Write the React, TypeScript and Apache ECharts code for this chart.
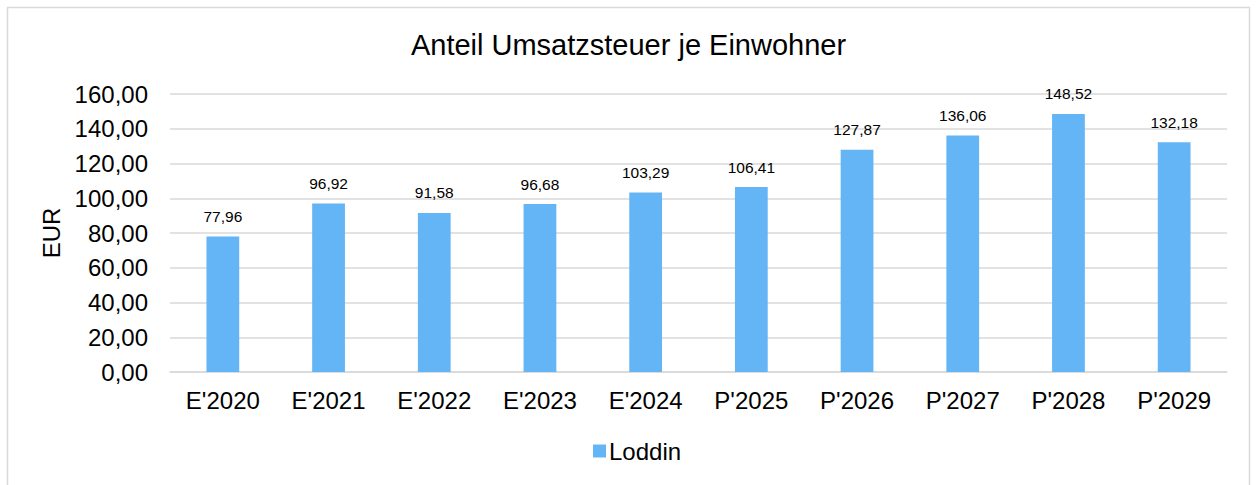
import React, { useEffect, useRef } from "react";
import * as echarts from "echarts";

const categories = ["E'2020", "E'2021", "E'2022", "E'2023", "E'2024", "P'2025", "P'2026", "P'2027", "P'2028", "P'2029"];
const values = [77.96, 96.92, 91.58, 96.68, 103.29, 106.41, 127.87, 136.06, 148.52, 132.18];
const seriesName = "Loddin";
const title = "Anteil Umsatzsteuer je Einwohner";
const yName = "EUR";

const fmt = (v: number) => v.toFixed(2).replace(".", ",");

export default function App() {
  const ref = useRef<HTMLDivElement>(null);
  useEffect(() => {
    const chart = echarts.init(ref.current!, null, { renderer: "svg" });
    const font = "Arial, 'Liberation Sans', sans-serif";
    chart.setOption({
      animation: false,
      textStyle: { fontFamily: font },
      graphic: [
        {
          type: "rect",
          shape: { x: 7.5, y: 7.5, width: 1242, height: 520 },
          style: { fill: "none", stroke: "#d9d9d9", lineWidth: 1.5 },
          silent: true,
        },
      ],
      title: {
        text: title,
        left: "center",
        top: 25,
        textStyle: { fontSize: 29, fontWeight: "normal", color: "#000", fontFamily: font },
      },
      grid: { left: 170, right: 30, top: 94, bottom: 113 },
      legend: {
        top: 434,
        left: 588,
        itemWidth: 13,
        itemHeight: 13,
        itemGap: 4,
        icon: "rect",
        textStyle: { fontSize: 24, color: "#000", fontFamily: font, padding: [0, 0, 0, -2] },
        data: [seriesName],
      },
      xAxis: {
        type: "category",
        data: categories,
        axisTick: { show: false },
        axisLine: { lineStyle: { color: "#d9d9d9", width: 1.5 } },
        axisLabel: { fontSize: 24, color: "#000", margin: 16, fontFamily: font },
      },
      yAxis: {
        type: "value",
        min: 0,
        max: 160,
        interval: 20,
        name: yName,
        nameLocation: "middle",
        nameRotate: 90,
        nameGap: 104,
        nameTextStyle: { fontSize: 24, color: "#000", fontFamily: font },
        axisLabel: { fontSize: 24, color: "#000", margin: 22, formatter: (v: number) => fmt(v), fontFamily: font },
        splitLine: { lineStyle: { color: "#d9d9d9", width: 1.5 } },
        axisLine: { show: false },
        axisTick: { show: false },
      },
      series: [
        {
          type: "bar",
          name: seriesName,
          data: values,
          barWidth: "31%",
          itemStyle: { color: "#64b5f6" },
          label: {
            show: true,
            position: "top",
            distance: 12,
            fontSize: 15.5,
            color: "#000",
            fontFamily: font,
            formatter: (p: any) => fmt(p.value),
          },
        },
      ],
    });
    return () => chart.dispose();
  }, []);
  return <div ref={ref} style={{ position: "absolute", left: 0, top: 0, width: 1257, height: 485 }} />;
}
